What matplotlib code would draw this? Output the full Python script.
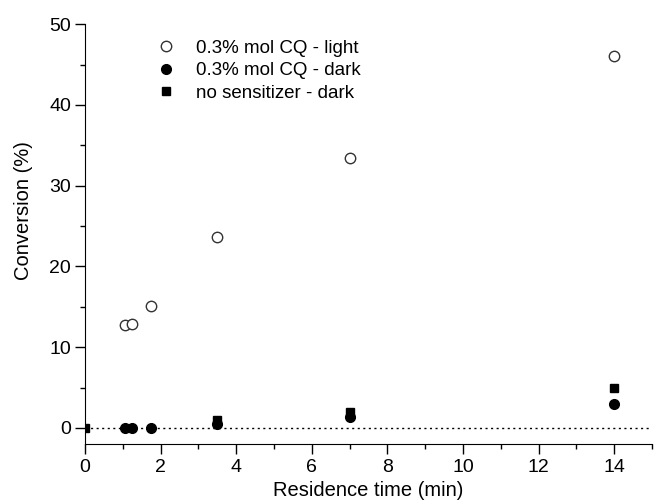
"""Conversion vs residence time scatter."""

import matplotlib
matplotlib.use("Agg")
import matplotlib.pyplot as plt
from matplotlib.ticker import MultipleLocator

plt.rcParams["font.family"] = ["Liberation Sans", "DejaVu Sans"]

# data
light_t = [1.05, 1.25, 1.75, 3.5, 7.0, 14.0]
light_conv = [12.8, 12.9, 15.1, 23.6, 33.4, 46.0]
dark_t = [1.05, 1.25, 1.75, 3.5, 7.0, 14.0]
dark_conv = [0.0, 0.0, 0.0, 0.5, 1.3, 2.9]
nosens_t = [0.0, 3.5, 7.0, 14.0]
nosens_conv = [0.0, 1.0, 2.0, 5.0]

fig = plt.figure(figsize=(6.54, 5.04), dpi=100)
ax = fig.add_axes([0.13, 0.119, 0.867, 0.833])

ax.axhline(0, color="black", lw=1.0, ls=(0, (1.5, 2.5)), zorder=1)
ax.plot(nosens_t, nosens_conv, "s", color="black", ms=6, ls="none",
        label="no sensitizer - dark", zorder=3)
ax.plot(dark_t, dark_conv, "o", color="black", ms=7, ls="none",
        label="0.3% mol CQ - dark", zorder=4)
ax.plot(light_t, light_conv, "o", mfc="white", mec="#333333", mew=1.0, ms=7.5,
        ls="none", label="0.3% mol CQ - light", zorder=4)

ax.set_xlim(0, 15)
ax.set_ylim(-2, 50)
ax.xaxis.set_major_locator(MultipleLocator(2))
ax.xaxis.set_minor_locator(MultipleLocator(1))
ax.yaxis.set_major_locator(MultipleLocator(10))
ax.yaxis.set_minor_locator(MultipleLocator(5))
ax.tick_params(which="major", direction="out", length=7, width=1.0, labelsize=14)
ax.tick_params(which="minor", direction="out", length=3.5, width=1.0)
ax.tick_params(axis="y", pad=3)
ax.spines["top"].set_visible(False)
ax.spines["right"].set_visible(False)
ax.set_xlabel("Residence time (min)", fontsize=14.5, labelpad=4)
ax.set_ylabel("Conversion (%)", fontsize=14.5)
ax.yaxis.set_label_coords(-0.092, 0.555)

handles, labels = ax.get_legend_handles_labels()
order = [2, 1, 0]
ax.legend([handles[i] for i in order], [labels[i] for i in order],
          loc="upper left", bbox_to_anchor=(0.109, 0.963), frameon=False,
          borderpad=0, borderaxespad=0, fontsize=13.5,
          handlelength=2.0, handletextpad=0.6, labelspacing=0.28)

fig.savefig("out.png", dpi=100)
